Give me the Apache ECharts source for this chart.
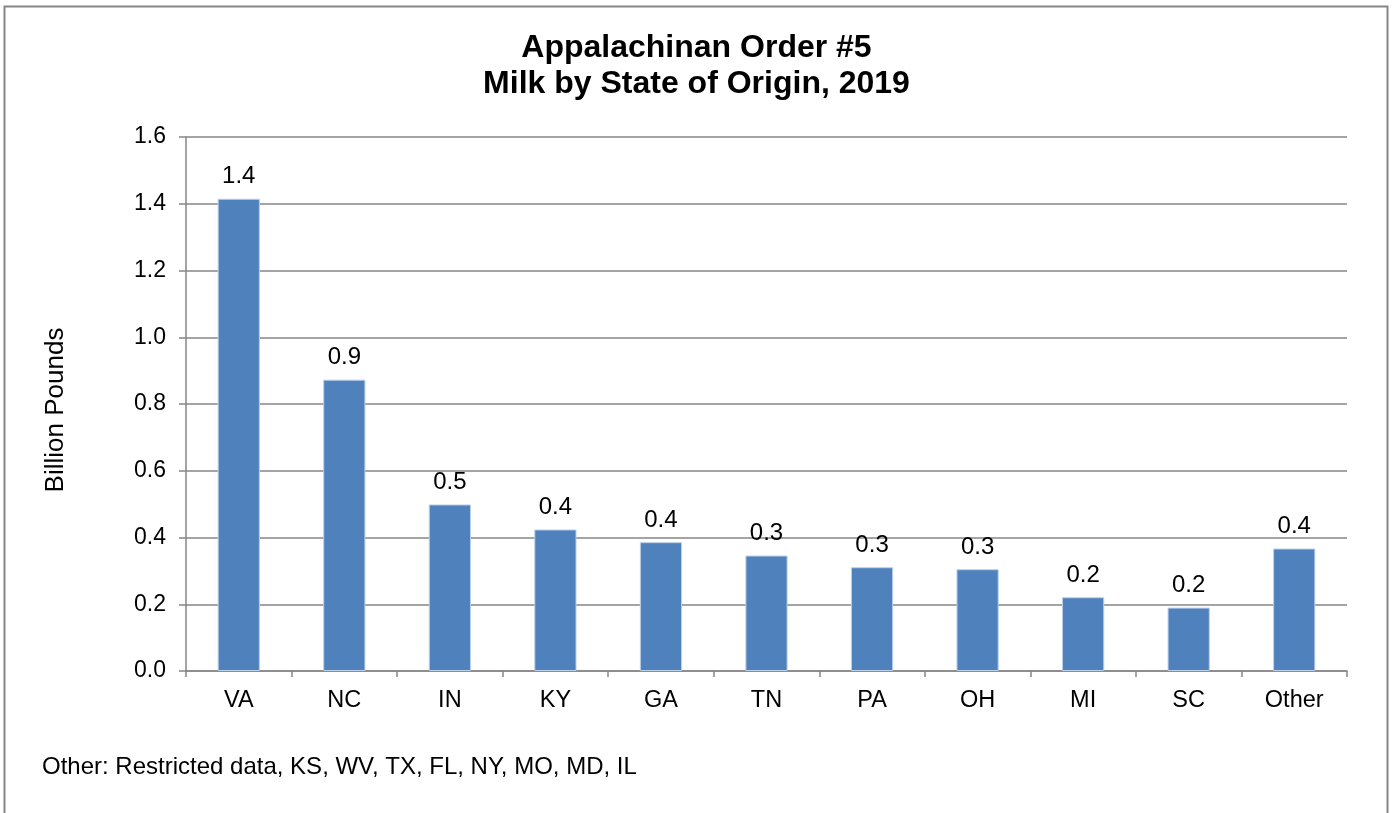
<!DOCTYPE html>
<html>
<head>
<meta charset="utf-8">
<script src="https://cdn.jsdelivr.net/npm/echarts@6/dist/echarts.min.js"></script>
<style>
html,body{margin:0;padding:0;background:#fff;}
#chart{width:1393px;height:813px;}
</style>
</head>
<body>
<div id="chart"></div>
<script>
const categories = ['VA','NC','IN','KY','GA','TN','PA','OH','MI','SC','Other'];
const values = [1.415, 0.873, 0.499, 0.424, 0.386, 0.346, 0.311, 0.305, 0.221, 0.190, 0.367];
const titleLines = ['Appalachinan Order #5', 'Milk by State of Origin, 2019'];
const yAxisName = 'Billion Pounds';
const footnote = 'Other: Restricted data, KS, WV, TX, FL, NY, MO, MD, IL';

const font = 'Arial, "Liberation Sans", sans-serif';
const chart = echarts.init(document.getElementById('chart'), null, {renderer: 'canvas'});
chart.setOption({
  animation: false,
  backgroundColor: '#fff',
  title: {
    text: titleLines.join('\n'),
    left: 'center',
    top: 25,
    textStyle: {fontFamily: font, fontSize: 32, fontWeight: 'bold', color: '#000', lineHeight: 36}
  },
  graphic: [
    {type: 'rect', shape: {x: 4.5, y: 6.5, width: 1383, height: 900}, style: {fill: 'none', stroke: '#868686', lineWidth: 2}, silent: true},
    {type: 'text', left: 42, top: 755, style: {text: footnote, fontFamily: font, fontSize: 24, fill: '#000'}}
  ],
  grid: {left: 186, right: 46, top: 137, bottom: 142, containLabel: false},
  xAxis: {
    type: 'category',
    data: categories,
    axisLine: {lineStyle: {color: '#868686', width: 1.5}},
    axisTick: {show: true, length: 6, alignWithLabel: false, lineStyle: {color: '#868686', width: 1.5}},
    axisLabel: {fontFamily: font, fontSize: 23.5, color: '#000', margin: 18}
  },
  yAxis: {
    type: 'value',
    min: 0, max: 1.6, interval: 0.2,
    name: yAxisName,
    nameLocation: 'middle',
    nameGap: 117,
    nameTextStyle: {fontFamily: font, fontSize: 26, color: '#000', padding: [0, 12, 0, 0]},
    axisLine: {show: true, lineStyle: {color: '#868686', width: 1.5}},
    axisTick: {show: true, length: 7, lineStyle: {color: '#868686', width: 1.5}},
    axisLabel: {fontFamily: font, fontSize: 23, color: '#000', margin: 20, formatter: v => v.toFixed(1)},
    splitLine: {lineStyle: {color: '#868686', width: 1.5}}
  },
  series: [{
    type: 'bar',
    data: values,
    barCategoryGap: '60%',
    itemStyle: {color: '#4F81BD', borderColor: '#bcd0e8', borderWidth: 1},
    label: {show: true, position: 'top', distance: 10, fontFamily: font, fontSize: 24, color: '#000', formatter: p => p.value.toFixed(1)}
  }]
});
</script>
</body>
</html>
